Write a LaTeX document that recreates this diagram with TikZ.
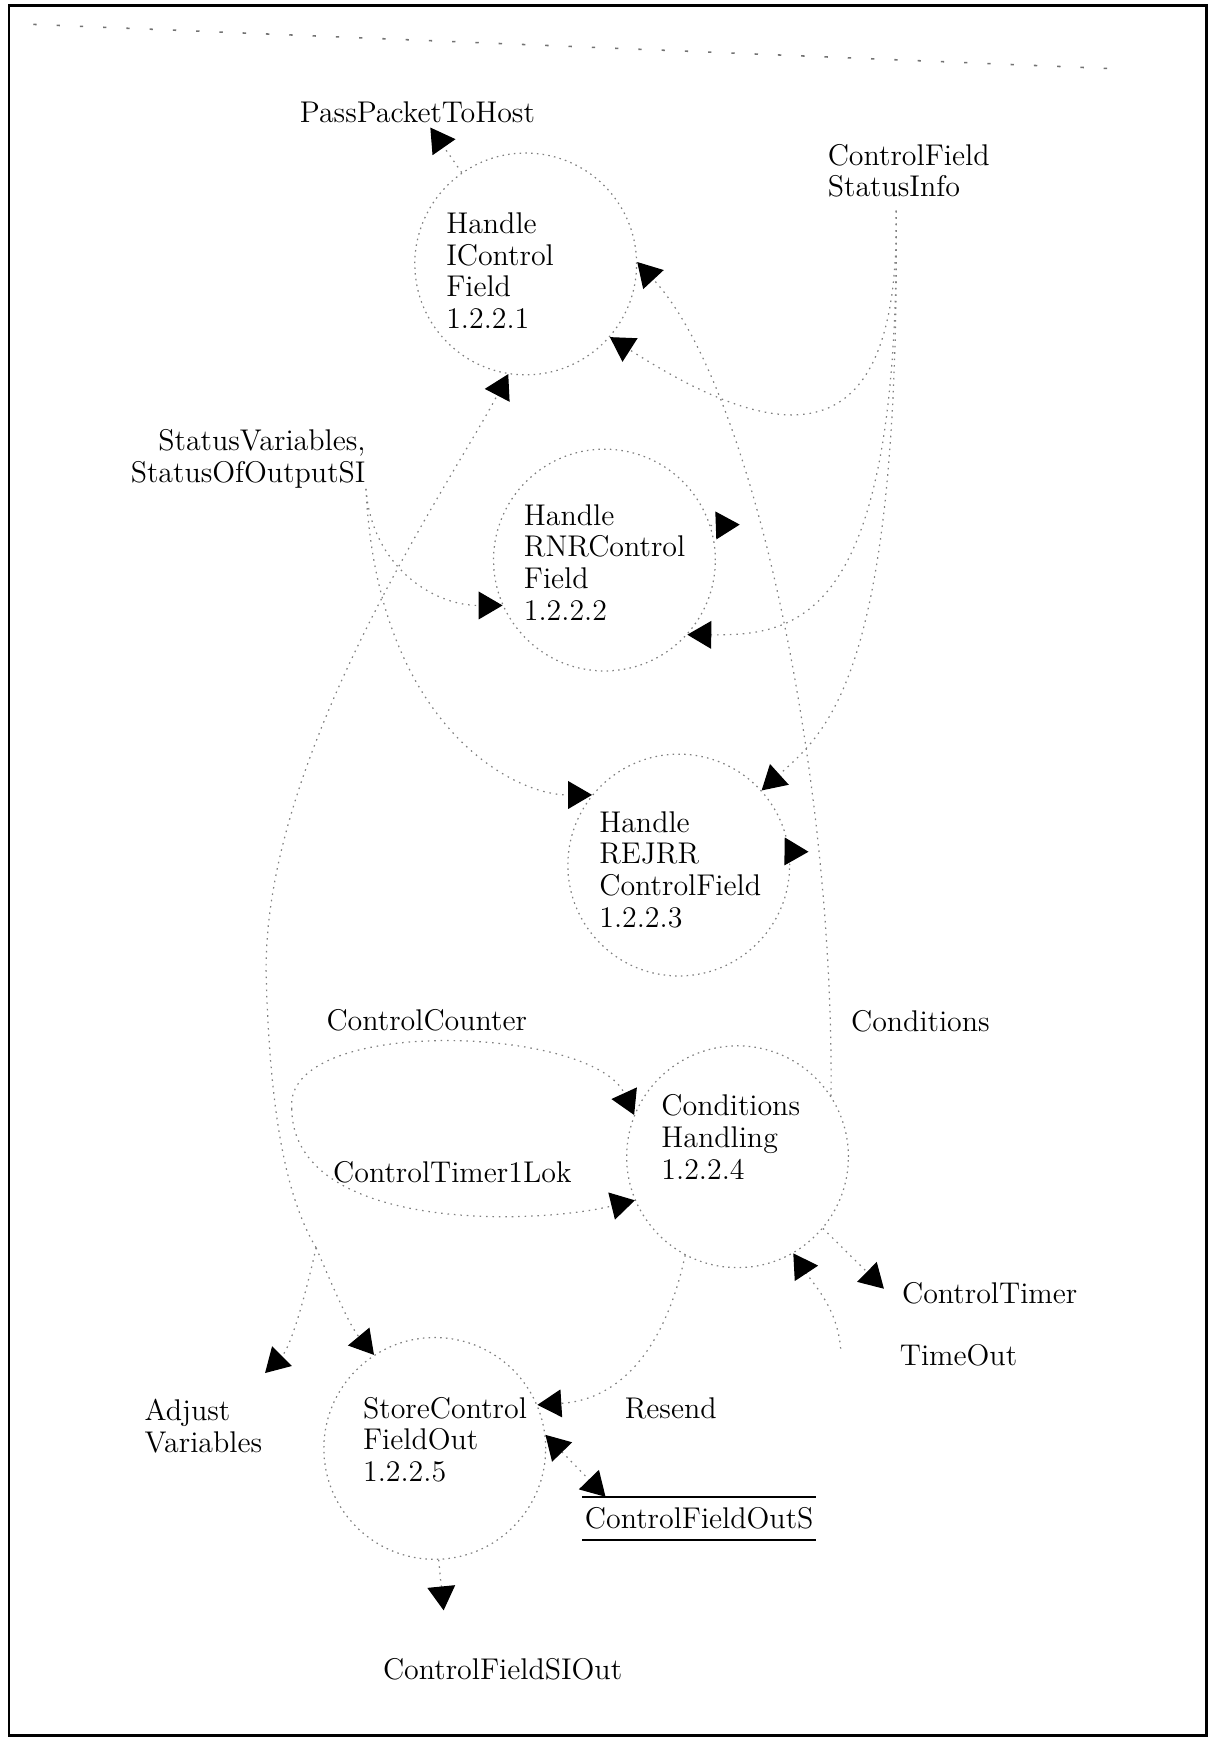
\documentclass[tikz,border=0pt]{standalone}
\usetikzlibrary{arrows.meta}
\begin{document}
\begin{tikzpicture}[x=0.5pt,y=-0.5pt,
  every node/.style={font=\fontsize{13.5}{14.3}\selectfont, inner sep=0pt},
  proc/.style={circle, draw=black!50, line width=0.55pt, dash pattern=on 0.7pt off 1.9pt, minimum size=100pt},
  txt/.style={align=left, anchor=west},
  conn/.style={draw=black!50, line width=0.55pt, dash pattern=on 0.7pt off 2.2pt},
  tip/.style={-{Triangle[length=10.8pt,width=12.5pt,color=black]}},
  flow/.style={conn, tip},
  bothflow/.style={conn, {Triangle[length=10.8pt,width=12.5pt,color=black]}-{Triangle[length=10.8pt,width=12.5pt,color=black]}}
]
\useasboundingbox (0,0) rectangle (1095,1568);

% page frame and the faint dotted rule along the top
\draw[line width=1.2pt] (8,5) rectangle (1088,1565);
\draw[black!55, line width=0.7pt, dash pattern=on 1.5pt off 9pt] (30,22) -- (1005,62);

% processes
\node[proc] (c1) at (474,238) {};
\node[proc] (c2) at (545,505) {};
\node[proc] (c3) at (612,780) {};
\node[proc] (c4) at (665,1043) {};
\node[proc] (c5) at (392,1306) {};

\node[txt] (t1) at (402,244) {Handle\\IControl\\Field\\1.2.2.1};
\node[txt] (t2) at (472,507) {Handle\\RNRControl\\Field\\1.2.2.2};
\node[txt] (t3) at (540,784) {Handle\\REJRR\\ControlField\\1.2.2.3};
\node[txt] (t4) at (596,1025) {Conditions\\Handling\\1.2.2.4};
\node[txt] (t5) at (327,1298) {StoreControl\\FieldOut\\1.2.2.5};

% flow labels
\node[txt] (pp) at (270,101) {PassPacketToHost};
\node[txt] (cfs) at (746,154) {ControlField\\StatusInfo};
\node[align=right, anchor=east] (sv) at (330,414) {StatusVariables,\\StatusOfOutputSI};
\node[txt] (cc) at (294,920) {ControlCounter};
\node[txt] (cond) at (767,921) {Conditions};
\node[txt] (ctl) at (300,1057) {ControlTimer1Lok};
\node[txt] (ct) at (813,1166) {ControlTimer};
\node[txt] (to) at (811,1222) {TimeOut};
\node[txt] (av) at (130,1286) {Adjust\\Variables};
\node[txt] (rs) at (563,1270) {Resend};
\node[anchor=west, inner xsep=1pt, minimum height=19pt] (cfo) at (525,1369) {ControlFieldOutS};
\node[txt] (sio) at (345,1505) {ControlFieldSIOut};

% data store lines
\draw[line width=0.8pt] (cfo.north west) -- (cfo.north east);
\draw[line width=0.8pt] (cfo.south west) -- (cfo.south east);

% free ends of flows
\coordinate (a1) at (388,115);
\coordinate (a5) at (667,473);
\coordinate (a10) at (729,768);
\coordinate (a14) at (797,1162);
\coordinate (cfsfoot) at (808,190);
\coordinate (split) at (285,1125);
\coordinate (loopL) at (263,1000);
\coordinate (tofoot) at (758,1216);
\coordinate (avtip) at (239,1238);
\coordinate (siotip) at (400,1452);

% PassPacketToHost
\draw[flow] (c1.125) -- (a1);

% ControlFieldStatusInfo into the three handlers
\draw[flow] (cfsfoot) .. controls (812,420) and (700,400) .. (c1.-41.5);
\draw[flow] (cfsfoot) .. controls (812,560) and (720,573) .. (c2.-42.5);
\draw[flow] (cfsfoot) .. controls (812,610) and (745,660) .. (c3.42);

% Conditions
\draw[flow] (c4.33) .. controls (752,700) and (680,350) .. (c1.1);
\draw[flow] (c2.18) -- (a5);
\draw[flow] (c3.7) -- (a10);

% StatusVariables, StatusOfOutputSI
\draw[flow] (sv.south east) .. controls (335,510) and (390,546) .. (c2.204);
\draw[flow] (sv.south east) .. controls (340,650) and (460,717) .. (c3.141);

% long flow down the left side
\draw[flow] (split) .. controls (255,1075) and (243,990) .. (240,880)
  .. controls (236,680) and (410,430) .. (c1.261);
\draw[flow] (split) .. controls (275,1170) and (262,1215) .. (avtip);
\draw[flow] (split) .. controls (300,1160) and (315,1195) .. (c5.123);

% ControlCounter and ControlTimer1Lok
\draw[flow] (loopL) .. controls (255,915) and (535,925) .. (c4.158);
\draw[flow] (loopL) .. controls (265,1110) and (480,1105) .. (c4.203);

% ControlTimer, TimeOut, Resend
\draw[flow] (c4.-40) -- (a14);
\draw[flow] (tofoot) .. controls (755,1180) and (735,1160) .. (c4.-60);
\draw[flow] (c4.242) .. controls (600,1215) and (560,1262) .. (c5.23);

% store access and ControlFieldSIOut
\draw[bothflow] (c5.7) -- ([xshift=10.5pt]cfo.north west);
\draw[flow] (c5.272) -- (siotip);
\end{tikzpicture}
\end{document}
